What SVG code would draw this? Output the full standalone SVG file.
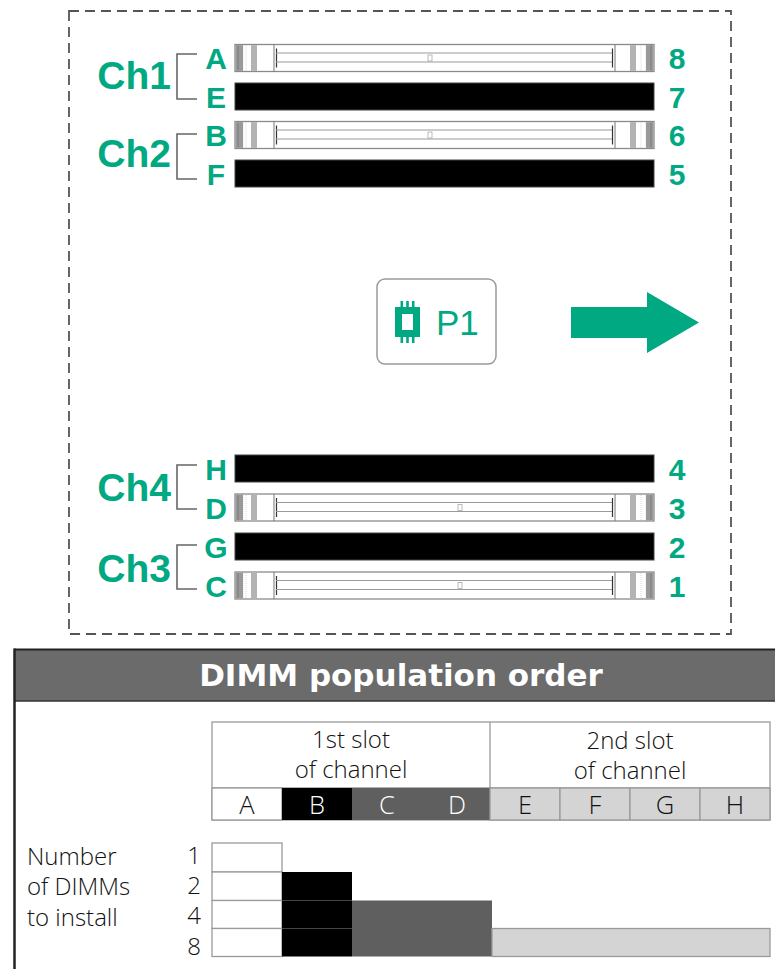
<svg xmlns="http://www.w3.org/2000/svg" xmlns:xlink="http://www.w3.org/1999/xlink" width="775" height="969" viewBox="0 0 775 969">
<style>
.g{fill:#01a982;font-family:"Liberation Sans",Arial,sans-serif;font-weight:bold}
.ch{font-size:39px;text-anchor:end}
.lt{font-size:30px;text-anchor:middle}
.t{font-family:"Open Sans","DejaVu Sans","Liberation Sans",sans-serif;font-weight:300;font-size:25.5px;fill:#111}
.rl{font-size:24px}
.tc{text-anchor:middle}
.br{fill:none;stroke:#666;stroke-width:1.6}
.cell{stroke:#9a9a9a;stroke-width:1.3}
</style>
<defs>
<g id="openSlot">
<rect x="0" y="0" width="419" height="27" fill="#fff" stroke="#8a8a8a" stroke-width="1.3"/>
<rect x="0.6" y="0.6" width="7.5" height="25.8" fill="#999"/>
<line x1="3" y1="1" x2="3" y2="26" stroke="#777" stroke-width="0.8"/>
<line x1="11" y1="1" x2="11" y2="26" stroke="#ccc" stroke-width="0.8" stroke-dasharray="1 1"/>
<rect x="16" y="0.6" width="6" height="25.8" fill="#b3b3b3"/>
<line x1="39" y1="0" x2="39" y2="27" stroke="#777" stroke-width="1"/>
<line x1="41.5" y1="4" x2="41.5" y2="23" stroke="#333" stroke-width="1.2"/>
<line x1="41" y1="8.5" x2="378" y2="8.5" stroke="#9a9a9a" stroke-width="1.1"/>
<line x1="41" y1="17.5" x2="378" y2="17.5" stroke="#9a9a9a" stroke-width="1.1"/>
<line x1="377.5" y1="4" x2="377.5" y2="23" stroke="#333" stroke-width="1.2"/>
<line x1="380" y1="0" x2="380" y2="27" stroke="#777" stroke-width="1"/>
<rect x="395" y="0.6" width="6" height="25.8" fill="#b3b3b3"/>
<line x1="406" y1="1" x2="406" y2="26" stroke="#ccc" stroke-width="0.8" stroke-dasharray="1 1"/>
<rect x="410.9" y="0.6" width="7.5" height="25.8" fill="#999"/>
<line x1="416" y1="1" x2="416" y2="26" stroke="#777" stroke-width="0.8"/>
</g>
<rect id="blackSlot" x="0" y="0" width="419" height="27" fill="#000" stroke="#444" stroke-width="1"/>
</defs>

<rect x="0" y="0" width="775" height="969" fill="#fff"/>

<g id="board">
<rect x="69" y="11" width="662" height="623" fill="none" stroke="#555" stroke-width="1.8" stroke-dasharray="10 6"/>
</g>

<g id="slot-A"><use xlink:href="#openSlot" x="235" y="44.5"/><rect x="428" y="55" width="4" height="6" fill="none" stroke="#aaa" stroke-width="0.8"/><text class="g lt" x="216" y="69">A</text><text class="g lt" x="677" y="69">8</text></g>
<g id="slot-E"><use xlink:href="#blackSlot" x="235" y="83"/><text class="g lt" x="216" y="107.5">E</text><text class="g lt" x="677" y="107.5">7</text></g>
<g id="slot-B"><use xlink:href="#openSlot" x="235" y="121.5"/><rect x="428" y="132" width="4" height="6" fill="none" stroke="#aaa" stroke-width="0.8"/><text class="g lt" x="216" y="146">B</text><text class="g lt" x="677" y="146">6</text></g>
<g id="slot-F"><use xlink:href="#blackSlot" x="235" y="160"/><text class="g lt" x="216" y="184.5">F</text><text class="g lt" x="677" y="184.5">5</text></g>

<g id="slot-H"><use xlink:href="#blackSlot" x="235" y="455"/><text class="g lt" x="216" y="480">H</text><text class="g lt" x="677" y="480">4</text></g>
<g id="slot-D"><use xlink:href="#openSlot" x="235" y="494"/><rect x="458" y="504.5" width="4" height="6" fill="none" stroke="#aaa" stroke-width="0.8"/><text class="g lt" x="216" y="519">D</text><text class="g lt" x="677" y="519">3</text></g>
<g id="slot-G"><use xlink:href="#blackSlot" x="235" y="533"/><text class="g lt" x="216" y="558">G</text><text class="g lt" x="677" y="558">2</text></g>
<g id="slot-C"><use xlink:href="#openSlot" x="235" y="572"/><rect x="458" y="582.5" width="4" height="6" fill="none" stroke="#aaa" stroke-width="0.8"/><text class="g lt" x="216" y="597">C</text><text class="g lt" x="677" y="597">1</text></g>

<g id="ch1"><text class="g ch" x="171" y="89">Ch1</text></g>
<g id="ch2"><text class="g ch" x="171" y="167">Ch2</text></g>
<g id="ch4"><text class="g ch" x="171" y="501">Ch4</text></g>
<g id="ch3"><text class="g ch" x="171" y="582">Ch3</text></g>

<g id="connectors">
<path class="br" d="M197,54 H177 V99 H197"/>
<path class="br" d="M197,134 H177 V179 H197"/>
<path class="br" d="M197,465 H177 V509 H197"/>
<path class="br" d="M197,545 H177 V589 H197"/>
</g>

<g id="p1">
<rect x="377" y="279" width="119" height="85" rx="8" fill="#fff" stroke="#9a9a9a" stroke-width="1.5"/>
<rect x="395" y="307" width="25" height="30" fill="#01a982"/>
<rect x="402" y="314" width="11" height="16" fill="#fff"/>
<rect x="400.5" y="301" width="2.6" height="7" fill="#01a982"/>
<rect x="406.2" y="301" width="2.6" height="7" fill="#01a982"/>
<rect x="411.9" y="301" width="2.6" height="7" fill="#01a982"/>
<rect x="400.5" y="336" width="2.6" height="7" fill="#01a982"/>
<rect x="406.2" y="336" width="2.6" height="7" fill="#01a982"/>
<rect x="411.9" y="336" width="2.6" height="7" fill="#01a982"/>
<text x="436" y="335" font-family="Liberation Sans,Arial,sans-serif" font-size="35" fill="#01a982">P1</text>
</g>

<g id="airflow-arrow">
<polygon points="571,307 647,307 647,292 699,322.5 647,353 647,338 571,338" fill="#01a982"/>
</g>

<g id="table">
<rect x="14" y="649" width="780" height="52" fill="#6b6b6b"/>
<line x1="14" y1="649.5" x2="775" y2="649.5" stroke="#222" stroke-width="2"/>
<line x1="14" y1="701" x2="775" y2="701" stroke="#333" stroke-width="1.5"/>
<line x1="14.5" y1="648.5" x2="14.5" y2="969" stroke="#222" stroke-width="2.5"/>
<text x="401" y="686" text-anchor="middle" font-family="DejaVu Sans,Liberation Sans,sans-serif" font-weight="bold" font-size="31" fill="#fff">DIMM population order</text>

<g id="col-header">
<rect class="cell" x="212" y="722" width="558" height="98" fill="#fff"/>
<line class="cell" x1="212" y1="788" x2="770" y2="788"/>
<line class="cell" x1="490" y1="722" x2="490" y2="820"/>
<text class="t rl tc" x="351" y="748">1st slot</text>
<text class="t rl tc" x="351" y="778">of channel</text>
<text class="t rl tc" x="630" y="749">2nd slot</text>
<text class="t rl tc" x="630" y="779">of channel</text>
<rect class="cell" x="212" y="788" width="70" height="32" fill="#fff"/>
<rect x="282" y="788" width="70" height="32" fill="#000"/>
<rect x="352" y="788" width="138" height="32" fill="#5f5f5f"/>
<rect class="cell" x="490" y="788" width="70" height="32" fill="#d4d4d4"/>
<rect class="cell" x="560" y="788" width="70" height="32" fill="#d4d4d4"/>
<rect class="cell" x="630" y="788" width="70" height="32" fill="#d4d4d4"/>
<rect class="cell" x="700" y="788" width="70" height="32" fill="#d4d4d4"/>
<text class="t tc" x="247" y="814">A</text>
<text class="t tc" x="317" y="814" style="fill:#fff">B</text>
<text class="t tc" x="387" y="814" style="fill:#fff">C</text>
<text class="t tc" x="457" y="814" style="fill:#fff">D</text>
<text class="t tc" x="525" y="814">E</text>
<text class="t tc" x="595" y="814">F</text>
<text class="t tc" x="665" y="814">G</text>
<text class="t tc" x="735" y="814">H</text>
</g>

<g id="row-labels">
<text class="t rl" x="27" y="865">Number</text>
<text class="t rl" x="27" y="895">of DIMMs</text>
<text class="t rl" x="27" y="926">to install</text>
<text class="t rl" x="201" y="864" text-anchor="end">1</text>
<text class="t rl" x="201" y="894" text-anchor="end">2</text>
<text class="t rl" x="201" y="924" text-anchor="end">4</text>
<text class="t rl" x="201" y="955" text-anchor="end">8</text>
</g>

<g id="rows">
<rect class="cell" x="212" y="843" width="70" height="29" fill="#fff"/>
<rect class="cell" x="212" y="872" width="70" height="28.5" fill="#fff"/>
<rect class="cell" x="212" y="900.5" width="70" height="28" fill="#fff"/>
<rect class="cell" x="212" y="928.5" width="70" height="28" fill="#fff"/>
<rect x="282" y="872" width="70" height="84.5" fill="#000"/>
<line x1="282" y1="900.5" x2="352" y2="900.5" stroke="#444" stroke-width="1"/>
<line x1="282" y1="928.5" x2="352" y2="928.5" stroke="#444" stroke-width="1"/>
<rect x="352" y="900.5" width="140" height="56" fill="#5f5f5f"/>
<rect class="cell" x="492" y="928.5" width="278" height="28" fill="#d4d4d4"/>
</g>
</g>
</svg>
